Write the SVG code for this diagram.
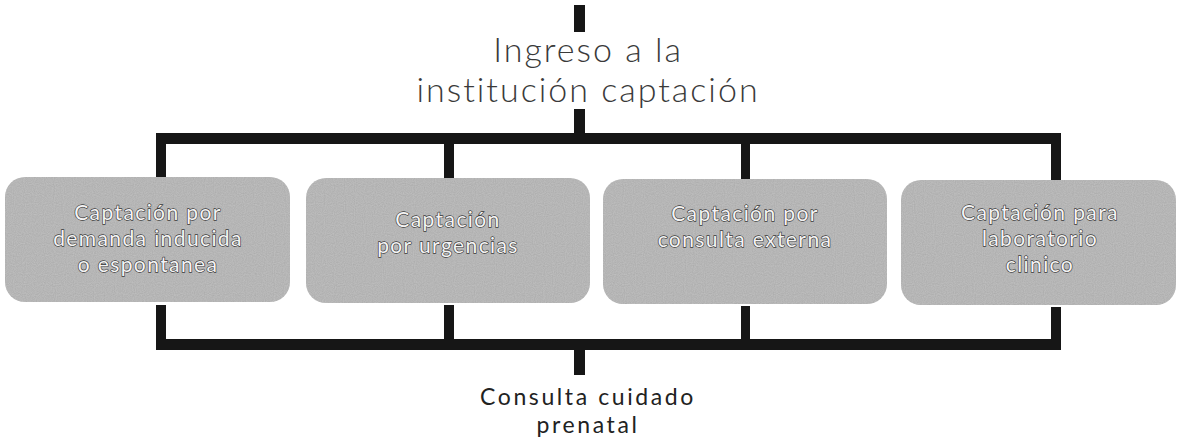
<svg xmlns="http://www.w3.org/2000/svg" width="1177" height="443" viewBox="0 0 1177 443">
<style>
.box{fill:#c6c6c6;}
.bt{font-family:Lato,"Noto Sans",sans-serif;font-size:21px;letter-spacing:1.4px;fill:#f4f4f4;stroke:#3a3a3a;stroke-width:1.3px;paint-order:stroke;text-anchor:middle;}
.title{font-family:Lato,"Open Sans",sans-serif;font-weight:300;font-size:34px;letter-spacing:2px;fill:#3a3a3a;text-anchor:middle;}
.end{font-family:Lato,"Open Sans",sans-serif;font-size:23px;letter-spacing:2.6px;fill:#222;text-anchor:middle;}
.c{fill:#161616;}
</style>
<defs>
<filter id="grain" x="0" y="0" width="100%" height="100%">
<feTurbulence type="fractalNoise" baseFrequency="0.9" numOctaves="1" seed="3" result="n"/>
<feColorMatrix in="n" type="saturate" values="0" result="g"/>
<feComponentTransfer in="g" result="g2"><feFuncA type="linear" slope="0" intercept="0.35"/></feComponentTransfer>
<feComposite in="g2" in2="SourceGraphic" operator="in" result="m"/>
<feBlend in="m" in2="SourceGraphic" mode="multiply"/>
</filter>
</defs>
<g id="connectors">
<rect class="c" x="574" y="5" width="11" height="27"/>
<rect class="c" x="574" y="109" width="11" height="25"/>
<rect class="c" x="156" y="133" width="905" height="11"/>
<rect class="c" x="156" y="133" width="10" height="44"/>
<rect class="c" x="444" y="133" width="10" height="45"/>
<rect class="c" x="741" y="133" width="9" height="46"/>
<rect class="c" x="1051" y="133" width="10" height="47"/>
<rect class="c" x="156" y="305" width="10" height="45"/>
<rect class="c" x="444" y="305" width="10" height="45"/>
<rect class="c" x="741" y="306" width="9" height="44"/>
<rect class="c" x="1051" y="307" width="10" height="43"/>
<rect class="c" x="156" y="339" width="905" height="11"/>
<rect class="c" x="574" y="339" width="11" height="36"/>
</g>
<g id="n-ingreso">
<text class="title" x="588" y="62">Ingreso a la</text>
<text class="title" x="588" y="102">institución captación</text>
</g>
<g id="n-demanda">
<rect class="box" x="5" y="177" width="285" height="125" rx="20" filter="url(#grain)"/>
<text class="bt" x="148" y="220">Captación por</text>
<text class="bt" x="148" y="246">demanda inducida</text>
<text class="bt" x="148" y="272">o espontanea</text>
</g>
<g id="n-urgencias">
<rect class="box" x="306" y="178" width="284" height="125" rx="20" filter="url(#grain)"/>
<text class="bt" x="448" y="227">Captación</text>
<text class="bt" x="448" y="253">por urgencias</text>
</g>
<g id="n-externa">
<rect class="box" x="603" y="179" width="284" height="125" rx="20" filter="url(#grain)"/>
<text class="bt" x="745" y="221">Captación por</text>
<text class="bt" x="745" y="247">consulta externa</text>
</g>
<g id="n-laboratorio">
<rect class="box" x="901" y="180" width="275" height="125" rx="20" filter="url(#grain)"/>
<text class="bt" x="1040" y="220">Captación para</text>
<text class="bt" x="1040" y="246">laboratorio</text>
<text class="bt" x="1040" y="272">clinico</text>
</g>
<g id="n-consulta">
<text class="end" x="588" y="405">Consulta cuidado</text>
<text class="end" x="588" y="433">prenatal</text>
</g>
</svg>
